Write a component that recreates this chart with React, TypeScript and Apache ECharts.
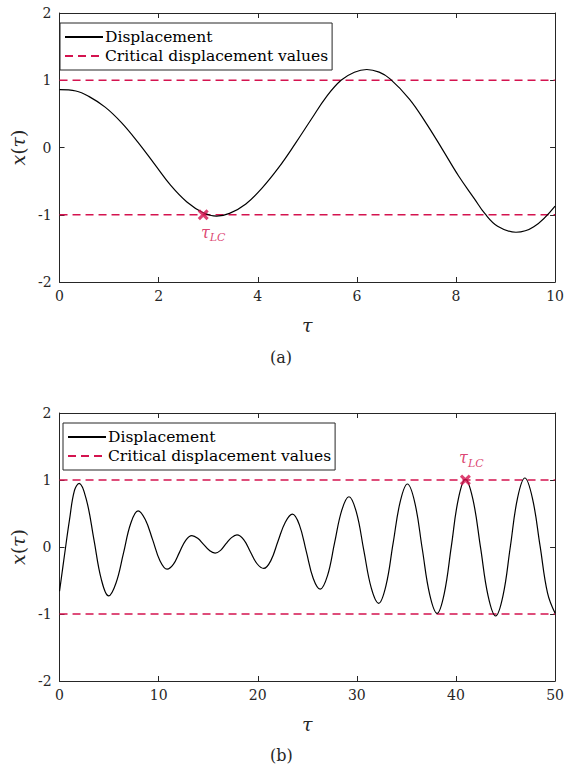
import React, { useEffect, useRef } from "react";
import * as echarts from "echarts";

// ---- Data ----
const tauA = [0, 0.33, 0.59, 0.92, 1.25, 1.58, 1.91, 2.24, 2.57, 2.9, 3.17, 3.43, 3.76, 4.09, 4.42, 4.75, 5.08, 5.38, 5.68, 5.95, 6.2, 6.45, 6.67, 7.06, 7.39, 7.72, 8.05, 8.38, 8.58, 8.84, 9.21, 9.57, 10];
const dispA = [0.86, 0.84, 0.76, 0.6, 0.37, 0.08, -0.24, -0.56, -0.81, -0.97, -1.02, -0.98, -0.84, -0.6, -0.3, 0.05, 0.42, 0.75, 1.0, 1.12, 1.16, 1.12, 1.02, 0.72, 0.37, -0.02, -0.42, -0.77, -0.98, -1.17, -1.26, -1.18, -0.87];

const tauB = [0, 0.5, 1.0, 1.5, 1.98, 2.72, 3.47, 4.21, 4.95, 5.69, 6.44, 7.18, 7.92, 8.65, 9.39, 10.12, 10.85, 11.48, 12.1, 12.73, 13.35, 13.94, 14.53, 15.11, 15.7, 16.25, 16.8, 17.35, 17.9, 18.58, 19.25, 19.93, 20.6, 21.33, 22.05, 22.78, 23.5, 24.2, 24.9, 25.6, 26.3, 27.03, 27.75, 28.48, 29.2, 29.95, 30.7, 31.45, 32.2, 32.93, 33.65, 34.38, 35.1, 35.85, 36.6, 37.35, 38.1, 38.81, 39.53, 40.24, 40.95, 41.71, 42.48, 43.24, 44.0, 44.74, 45.48, 46.21, 46.95, 47.71, 48.48, 49.24, 50];
const dispB = [-0.66, -0.12, 0.4, 0.84, 0.95, 0.7, 0.11, -0.48, -0.73, -0.54, -0.1, 0.35, 0.54, 0.41, 0.11, -0.2, -0.33, -0.26, -0.08, 0.1, 0.17, 0.13, 0.04, -0.05, -0.09, -0.05, 0.05, 0.14, 0.18, 0.11, -0.07, -0.25, -0.32, -0.2, 0.09, 0.37, 0.49, 0.33, -0.07, -0.47, -0.63, -0.43, 0.06, 0.55, 0.75, 0.52, -0.05, -0.61, -0.84, -0.58, 0.05, 0.68, 0.94, 0.66, -0.03, -0.71, -0.99, -0.7, 0.01, 0.72, 1.01, 0.71, -0.01, -0.73, -1.03, -0.73, 0.0, 0.73, 1.03, 0.73, 0.02, -0.69, -0.99];

const criticalValues = [1, -1];
const xMaxA = 10;
const xMaxB = 50;
const xIntervalA = 2;
const xIntervalB = 10;
const tauLC_A = [2.9, -1];
const tauLC_B = [40.95, 1];
const yTicks = [-2, -1, 0, 1, 2];

const SERIF = "DejaVu Serif";
const RED = "#d4134f";
const AX = "#262626";

function critData(xmax: number) {
  return [
    [0, criticalValues[0]],
    [xmax, criticalValues[0]],
    [xmax, null],
    [0, criticalValues[1]],
    [xmax, criticalValues[1]],
  ];
}

const crossPath = "path://M0,2 L2,0 L5,3 L8,0 L10,2 L7,5 L10,8 L8,10 L5,7 L2,10 L0,8 L3,5 Z";

export default function App() {
  const ref = useRef<HTMLDivElement>(null);
  useEffect(() => {
    if (!ref.current) return;
    const chart = echarts.init(ref.current, null, { renderer: "svg" });

    const mkX = (grid: number, max: number, interval: number) => [
      {
        type: "value",
        gridIndex: grid,
        position: "bottom",
        min: 0,
        max,
        interval,
        axisLine: { show: true, onZero: false, lineStyle: { color: AX, width: 1 } },
        axisTick: { show: true, inside: true, length: 5, lineStyle: { color: AX } },
        axisLabel: { fontFamily: SERIF, fontSize: 14, color: AX, margin: 7 },
        splitLine: { show: false },
        name: "τ",
        nameLocation: "middle",
        nameGap: 33,
        nameTextStyle: { fontFamily: SERIF, fontSize: 19, fontStyle: "italic", color: AX },
      },
      {
        type: "value",
        gridIndex: grid,
        position: "top",
        min: 0,
        max,
        interval,
        axisLine: { show: true, onZero: false, lineStyle: { color: AX, width: 1 } },
        axisTick: { show: true, inside: true, length: 5, lineStyle: { color: AX } },
        axisLabel: { show: false },
        splitLine: { show: false },
      },
    ];
    const mkY = (grid: number) => [
      {
        type: "value",
        gridIndex: grid,
        position: "left",
        min: yTicks[0],
        max: yTicks[yTicks.length - 1],
        interval: 1,
        axisLine: { show: true, onZero: false, lineStyle: { color: AX, width: 1 } },
        axisTick: { show: true, inside: true, length: 5, lineStyle: { color: AX } },
        axisLabel: { fontFamily: SERIF, fontSize: 14, color: AX, margin: 8 },
        splitLine: { show: false },
        name: "{i|x}{n|(}{i|τ}{n|)}",
        nameLocation: "middle",
        nameRotate: 90,
        nameGap: 27,
        nameTextStyle: {
          rich: {
            i: { fontFamily: SERIF, fontSize: 19, fontStyle: "italic", color: AX },
            n: { fontFamily: SERIF, fontSize: 19, color: AX },
          },
        },
      },
      {
        type: "value",
        gridIndex: grid,
        position: "right",
        min: yTicks[0],
        max: yTicks[yTicks.length - 1],
        interval: 1,
        axisLine: { show: true, onZero: false, lineStyle: { color: AX, width: 1 } },
        axisTick: { show: true, inside: true, length: 5, lineStyle: { color: AX } },
        axisLabel: { show: false },
        splitLine: { show: false },
      },
    ];

    const labelRich = {
      t: { fontFamily: SERIF, fontSize: 16, fontStyle: "italic", color: RED, padding: [0, 0, 4, 0] },
      s: { fontFamily: SERIF, fontSize: 11, fontStyle: "italic", color: RED, padding: [7, 0, 0, 0] },
    };

    const mkSeries = (grid: number, tau: number[], disp: number[], xmax: number, lc: number[], labelPos: string, offset: number[]) => [
      {
        name: "Displacement",
        type: "line",
        xAxisIndex: grid * 2,
        yAxisIndex: grid * 2,
        data: tau.map((t, i) => [t, disp[i]]),
        smooth: 0.4,
        symbol: "none",
        lineStyle: { color: "#000", width: 1.2 },
        itemStyle: { color: "#000" },
        z: 3,
      },
      {
        name: "Critical displacement values",
        type: "line",
        xAxisIndex: grid * 2,
        yAxisIndex: grid * 2,
        data: critData(xmax),
        connectNulls: false,
        symbol: "none",
        lineStyle: { color: RED, width: 1.4, type: [8, 5] },
        itemStyle: { color: RED },
        z: 2,
      },
      {
        name: "tauLC",
        type: "scatter",
        xAxisIndex: grid * 2,
        yAxisIndex: grid * 2,
        data: [lc],
        symbol: crossPath,
        symbolSize: 11,
        itemStyle: { color: RED },
        z: 5,
        label: {
          show: true,
          position: labelPos,
          offset,
          formatter: "{t|τ}{s|LC}",
          rich: labelRich,
        },
      },
    ];

    const legendBase = {
      orient: "vertical",
      data: ["Displacement", "Critical displacement values"],
      borderColor: AX,
      borderWidth: 1,
      backgroundColor: "#fff",
      padding: [6, 4, 6, 4],
      itemGap: 3,
      itemWidth: 38,
      itemHeight: 16,
      itemStyle: { opacity: 0 },
      textStyle: { fontFamily: SERIF, fontSize: 15.5, lineHeight: 16, color: "#000", padding: [0, 0, 0, -3] },
      selectedMode: false,
    };

    chart.setOption({
      animation: false,
      backgroundColor: "#fff",
      grid: [
        { left: 53, top: 13, width: 505, height: 269 },
        { left: 53, top: 413, width: 505, height: 268 },
      ],
      xAxis: [...mkX(0, xMaxA, xIntervalA), ...mkX(1, xMaxB, xIntervalB)],
      yAxis: [...mkY(0), ...mkY(1)],
      legend: [
        { ...legendBase, left: 60, top: 23 },
        { ...legendBase, left: 63, top: 423 },
      ],
      series: [
        ...mkSeries(0, tauA, dispA, xMaxA, tauLC_A, "bottom", [10, -1]),
        ...mkSeries(1, tauB, dispB, xMaxB, tauLC_B, "top", [6, 0]),
      ],
      graphic: [
        { type: "text", left: 270, top: 349, style: { text: "(a)", fontFamily: SERIF, fontSize: 16, fill: AX } },
        { type: "text", left: 270, top: 747, style: { text: "(b)", fontFamily: SERIF, fontSize: 16, fill: AX } },
      ],
    });
    return () => chart.dispose();
  }, []);
  return <div ref={ref} style={{ width: 567, height: 773, position: "absolute", left: 0, top: 0 }} />;
}
